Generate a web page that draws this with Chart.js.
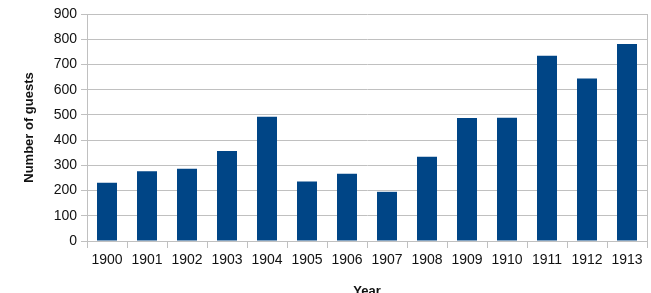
<!DOCTYPE html>
<html>
<head>
<meta charset="utf-8">
<script src="https://cdn.jsdelivr.net/npm/chart.js@4/dist/chart.umd.min.js"></script>
<style>
html,body{margin:0;padding:0;background:#fff;overflow:hidden;}
#wrap{width:651px;height:293px;overflow:hidden;position:relative;}
#c{display:block;}
</style>
</head>
<body>
<div id="wrap"><canvas id="c" width="651" height="299"></canvas></div>
<script>
const years = ['1900','1901','1902','1903','1904','1905','1906','1907','1908','1909','1910','1911','1912','1913'];
const guests = [231, 277, 286, 357, 493, 236, 267, 195, 334, 488, 489, 734, 644, 781];
const yTicks = [0,100,200,300,400,500,600,700,800,900];

const FONT = "'Liberation Sans', Arial, sans-serif";
const grid = '#c0c0c0';

new Chart(document.getElementById('c'), {
  type: 'bar',
  data: {
    labels: years,
    datasets: [{
      label: 'Number of guests',
      data: guests,
      backgroundColor: '#004586',
      borderWidth: 0,
      barPercentage: 0.5,
      categoryPercentage: 1.0
    }]
  },
  options: {
    responsive: false,
    animation: false,
    devicePixelRatio: 1,
    layout: { padding: { left: 22, right: 4, top: 14, bottom: 0 } },
    plugins: { legend: { display: false }, tooltip: { enabled: false } },
    scales: {
      x: {
        offset: true,
        grid: { drawOnChartArea: false, color: grid, tickLength: 7 },
        border: { color: grid },
        ticks: { color: '#111', font: { family: FONT, size: 14 }, padding: 4, maxRotation: 0 },
        title: { display: true, text: 'Year', color: '#111', font: { family: FONT, size: 13, weight: 'bold' }, padding: { top: 8, bottom: 0 } },
        afterFit: s => { s.height = 58; }
      },
      y: {
        min: 0, max: 900,
        afterBuildTicks: s => { s.ticks = yTicks.map(v => ({ value: v })); },
        grid: { color: grid, tickLength: 6 },
        border: { color: grid },
        ticks: { color: '#111', font: { family: FONT, size: 14 }, padding: 4 },
        title: { display: true, text: 'Number of guests', color: '#111', font: { family: FONT, size: 13, weight: 'bold' }, padding: 0 },
        afterFit: s => { s.width = 65; }
      },
      y2: {
        position: 'right',
        min: 0, max: 900,
        grid: { display: false },
        border: { display: true, color: grid },
        ticks: { display: false },
        afterFit: s => { s.width = 0; }
      }
    }
  }
});
</script>
</body>
</html>
